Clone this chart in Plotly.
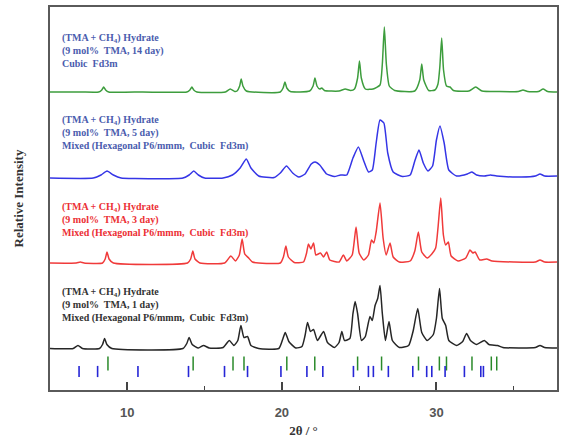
import plotly.graph_objects as go

# (2theta, intensity above the trace baseline)
green_14day = [(5.0,0),(7.0,0),(8.15,0),(8.35,2),(8.47,5),(8.6,2),(8.8,0),(11.0,0),(13.85,0),(14.05,2),(14.18,5),(14.3,2),(14.5,0),
    (16.35,0),(16.66,3),(16.95,0.5),(17.1,1),(17.27,6),(17.37,13),(17.48,6),(17.7,1),(19.9,0),(20.08,4),(20.2,10),(20.32,4),(20.55,0.5),
    (21.8,1),(22.02,6),(22.14,14),(22.27,6),(22.45,3),(22.58,4),(22.75,1.5),(23.7,1),(24.1,3),(24.45,1.5),(24.7,3),(24.9,14),(25.02,31),
    (25.14,14),(25.4,3),(25.9,3),(26.35,7),(26.5,28),(26.63,65),(26.76,28),(26.95,6),(27.3,1.5),(28.6,1),(28.92,12),(29.05,28),(29.18,12),
    (29.5,1.5),(29.9,2),(30.1,8),(30.22,25),(30.34,54),(30.46,22),(30.65,6),(30.88,5),(31.1,1.5),(32.1,1),(32.54,5),(32.95,1),(34.0,0.5),
    (35.3,0.5),(35.6,2),(35.9,0.5),(36.6,0.5),(36.9,3),(37.2,0.5),(37.8,0)]

blue_5day = [(5.0,0),(7.8,0),(8.3,3),(8.69,7),(9.1,3),(9.6,0),(10.5,-0.5),(13.6,0),(14.0,3),(14.3,7),(14.6,3),(15.0,0),(16.2,0),
    (16.8,3),(17.3,10),(17.7,19),(18.0,10),(18.5,2),(19.5,0.5),(19.9,5),(20.3,12),(20.7,5),(21.1,1),(21.5,4),(21.9,14),(22.15,16),
    (22.45,13),(22.9,4),(23.4,1.5),(23.8,3),(24.2,3),(24.6,20),(24.95,31),(25.3,17),(25.6,6),(25.85,8),(26.1,35),(26.35,58),(26.6,55),
    (26.85,25),(27.2,6),(27.8,1.5),(28.3,3),(28.6,17),(28.87,28),(29.15,15),(29.45,7),(29.75,12),(30.0,38),(30.23,52),(30.5,35),(30.8,8),
    (31.3,2),(32.0,4),(32.3,6),(32.6,3),(33.1,2),(33.5,3),(33.9,2),(35.5,1),(36.4,2),(36.7,4),(37.0,2),(37.8,2)]

red_3day = [(5.0,0),(6.7,0),(6.96,1),(7.2,0),(8.4,0),(8.57,4),(8.69,11),(8.82,4),(9.1,0),(13.9,0),(14.1,4),(14.24,12),(14.38,4),(14.7,0),
    (16.3,0),(16.7,7),(17.0,2),(17.25,8),(17.43,24),(17.6,9),(17.85,5),(18.1,1),(19.9,0),(20.1,6),(20.26,17),(20.42,6),(20.8,0.5),(21.4,1),
    (21.6,10),(21.72,19),(21.88,14),(22.05,20),(22.2,8),(22.5,10),(22.7,6),(22.9,11),(23.1,3),(23.7,1),(23.98,8),(24.2,2),(24.55,8),
    (24.8,36),(25.0,10),(25.3,3),(25.6,8),(25.8,23),(25.95,20),(26.1,31),(26.35,60),(26.55,25),(26.75,8),(27.0,20),(27.2,6),(27.6,1),
    (28.3,2),(28.6,12),(28.83,31),(29.05,11),(29.4,5),(29.7,9),(29.95,15),(30.1,35),(30.28,65),(30.45,28),(30.6,18),(30.77,21),(30.95,7),
    (31.4,2),(31.9,5),(32.17,13),(32.35,10),(32.5,11),(32.8,3),(33.25,4),(33.6,2),(35.0,1),(36.4,1),(36.7,3),(37.0,1),(37.8,1)]

black_1day = [(5.0,0),(6.5,0),(6.81,3),(7.1,0),(8.2,0),(8.4,4),(8.53,10),(8.68,4),(9.0,0),(13.6,0),(13.85,5),(14.0,11),(14.2,4),(14.6,0.5),
    (14.93,3),(15.3,0.5),(16.2,1),(16.6,8),(16.9,3),(17.15,8),(17.35,23),(17.55,11),(17.78,12),(18.0,3),(18.5,0),(19.8,0),(20.05,9),
    (20.22,16),(20.45,7),(20.9,0.5),(21.3,2),(21.5,13),(21.66,26),(21.85,17),(22.05,19),(22.3,8),(22.7,17),(22.95,6),(23.4,1),(23.7,6),
    (23.88,17),(24.05,8),(24.4,10),(24.6,35),(24.74,47),(24.9,35),(25.15,8),(25.4,12),(25.7,32),(25.85,28),(26.03,43),(26.2,50),
    (26.35,63),(26.5,35),(26.7,8),(26.93,27),(27.15,8),(27.6,1),(28.2,3),(28.5,18),(28.79,40),(29.05,16),(29.4,8),(29.8,14),(30.0,30),
    (30.2,60),(30.38,30),(30.6,23),(30.8,8),(31.3,3),(31.7,7),(31.95,15),(32.2,8),(32.6,4),(33.1,8),(33.4,4),(33.95,3),(34.3,1),
    (35.5,0.5),(36.4,1),(36.7,3),(37.0,1),(37.8,0.5)]

# reflection positions (2theta)
cubic_reflections = [8.75, 14.26, 16.84, 17.55, 20.32, 22.13, 24.9, 26.45, 28.84, 30.19, 30.65, 32.3, 33.55, 33.9]
hexagonal_reflections = [6.88, 8.08, 10.69, 13.96, 16.29, 17.78, 19.94, 21.62, 22.65, 24.63, 25.6, 25.92, 26.89,
                         28.47, 29.37, 29.7, 30.56, 31.81, 32.87, 33.04]

x_ticks = [10, 20, 30]

series = [
    (black_1day, 41.5, "#262626"),
    (red_3day, 127, "#f03a3a"),
    (blue_5day, 212, "#3535e6"),
    (green_14day, 298, "#3d9d3d"),
]

labels = [
    ("(TMA + CH<sub>4</sub>) Hydrate<br>(9 mol%  TMA, 1 day)<br>Mixed (Hexagonal P6/mmm,  Cubic  Fd3m)", 106, "#333333"),
    ("(TMA + CH<sub>4</sub>) Hydrate<br>(9 mol%  TMA, 3 day)<br>Mixed (Hexagonal P6/mmm,  Cubic  Fd3m)", 191, "#ec3035"),
    ("(TMA + CH<sub>4</sub>) Hydrate<br>(9 mol%  TMA, 5 day)<br>Mixed (Hexagonal P6/mmm,  Cubic  Fd3m)", 278, "#4a5cae"),
    ("(TMA + CH<sub>4</sub>) Hydrate<br>(9 mol%  TMA, 14 day)<br>Cubic  Fd3m", 360, "#4a5cae"),
]

fig = go.Figure()
for data, offset, color in series:
    xs = [p[0] for p in data]
    ys = [p[1] + offset for p in data]
    fig.add_trace(go.Scatter(x=xs, y=ys, mode="lines", line=dict(color=color, width=1.5, shape="spline", smoothing=0.5),
                             hoverinfo="skip", showlegend=False))

fig.add_trace(go.Scatter(x=cubic_reflections, y=[26.5] * len(cubic_reflections), mode="markers",
                         marker=dict(symbol="line-ns", size=10, line=dict(color="#2a8a2a", width=1.5)), showlegend=False))
fig.add_trace(go.Scatter(x=hexagonal_reflections, y=[18.5] * len(hexagonal_reflections), mode="markers",
                         marker=dict(symbol="line-ns", size=8, line=dict(color="#2626d6", width=1.6)), showlegend=False))

for text, ytop, color in labels:
    fig.add_annotation(x=0.02, xref="paper", y=ytop, yref="y", xanchor="left", yanchor="top", text=text,
                       showarrow=False, align="left",
                       font=dict(family="Liberation Serif", size=10, color=color, weight="bold"))

fig.update_layout(
    width=572, height=438,
    margin=dict(l=50, r=15, t=7, b=48),
    paper_bgcolor="white", plot_bgcolor="white",
    font=dict(family="Liberation Sans"),
    xaxis=dict(range=[5, 37.8], tickvals=x_ticks, ticks="inside", ticklen=8, tickwidth=1.5, tickcolor="#444",
               showline=True, linecolor="#5a5a5a", linewidth=1.5, mirror=True, showgrid=False, zeroline=False,
               minor=dict(ticks="inside", dtick=5, tick0=0, ticklen=4, tickcolor="#444", tickwidth=1.2),
               ticklabelstandoff=10, automargin=False,
               tickfont=dict(family="Liberation Sans", size=13, color="#555", weight="bold"),
               title=dict(text="2θ / °", standoff=22,
                          font=dict(family="Liberation Serif", size=13, color="#333", weight="bold"))),
    yaxis=dict(range=[0, 383], showticklabels=False, ticks="", showline=True, linecolor="#5a5a5a", linewidth=1.5,
               mirror=True, showgrid=False, zeroline=False,
               title=dict(text="Relative Intensity", standoff=22,
                          font=dict(family="Liberation Serif", size=13, color="#333", weight="bold"))),
)

fig.write_html("out.html")
